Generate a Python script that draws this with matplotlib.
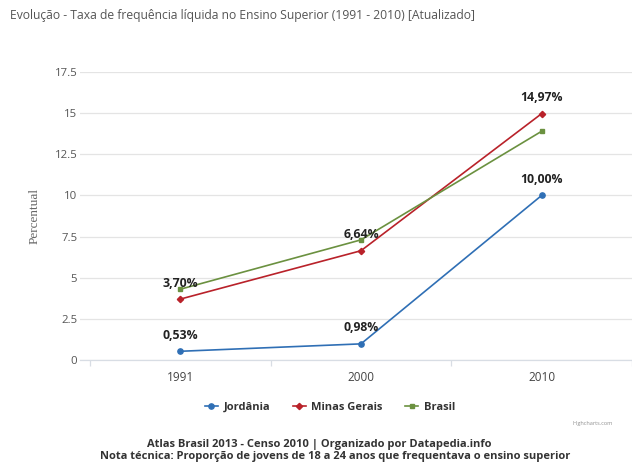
import matplotlib
matplotlib.use("Agg")
import matplotlib.pyplot as plt
from matplotlib.lines import Line2D

years = ["1991", "2000", "2010"]
jordania = [0.53, 0.98, 10.00]
minas = [3.70, 6.64, 14.97]
brasil = [4.3, 7.3, 13.9]
yticks = [0, 2.5, 5, 7.5, 10, 12.5, 15, 17.5]
ytick_labels = ["0", "2.5", "5", "7.5", "10", "12.5", "15", "17.5"]

title = "Evolução - Taxa de frequência líquida no Ensino Superior (1991 - 2010) [Atualizado]"
footer1 = "Atlas Brasil 2013 - Censo 2010 | Organizado por Datapedia.info"
footer2 = "Nota técnica: Proporção de jovens de 18 a 24 anos que frequentava o ensino superior"

plt.rcParams['font.family'] = ['Open Sans', 'DejaVu Sans']

W, H = 632, 468
fig = plt.figure(figsize=(W / 100, H / 100), dpi=100)
left, right, top, bottom = 80, 632, 72, 360
ax = fig.add_axes([left / W, 1 - bottom / H, (right - left) / W, (bottom - top) / H])

c_blue = '#2f6fb5'
c_red = '#b9222a'
c_green = '#6b9140'

x = list(range(len(years)))
series = [
    ("Jordânia", jordania, c_blue, 'o', 3.8),
    ("Minas Gerais", minas, c_red, 'D', 3.2),
    ("Brasil", brasil, c_green, 's', 3.4),
]
for name, vals, col, mk, ms in series:
    ax.plot(x, vals, color=col, lw=1.2, marker=mk, ms=ms, zorder=3, label=name)

def fmt(v):
    return f"{v:.2f}".replace(".", ",") + "%"

for vals in (jordania, minas):
    for xi, v in zip(x, vals):
        ax.annotate(fmt(v), (xi, v), xytext=(0, 11.5), textcoords='offset points',
                    ha='center', va='center', fontsize=8.8, fontweight='bold',
                    color='#222222', zorder=5)

# axes
ax.set_ylim(0, 17.5)
ax.set_xlim(-(181 - left) / 182, (right - 181) / 182)
ax.set_yticks(yticks)
ax.set_yticklabels(ytick_labels)
ax.grid(axis='y', color='#e4e4e4', lw=0.9)
ax.set_axisbelow(True)
for s in ['top', 'right', 'left']:
    ax.spines[s].set_visible(False)
ax.spines['bottom'].set_color('#d8dde4')
ax.spines['bottom'].set_linewidth(0.9)
ax.tick_params(axis='y', length=0, labelsize=8.2, labelcolor='#555555', pad=2)
ax.set_xticks(x)
ax.set_xticklabels(years)
ax.tick_params(axis='x', length=0, labelsize=8.5, labelcolor='#444444', pad=8)
ax.set_xticks([-0.5, 0.5, 1.5, 2.5], minor=True)
ax.tick_params(axis='x', which='minor', length=4, color='#d8dde4', width=0.9)
ax.set_ylabel("Percentual", family='Liberation Serif', fontsize=9.5, color='#666666', labelpad=10)

fig.text(10 / W, 1 - 16 / H, title, ha='left', va='center', fontsize=8.7, color='#555555')

handles = [Line2D([0], [0], color=col, lw=1.2, marker=mk, ms=ms) for _, _, col, mk, ms in series]
fig.legend(handles, [s[0] for s in series], loc='center', bbox_to_anchor=(330 / W, 1 - 407 / H),
           ncol=3, frameon=False, handlelength=1.2, handletextpad=0.5, columnspacing=2.0,
           prop={'family': 'Open Sans', 'weight': 'bold', 'size': 8})
for t in fig.legends[0].get_texts():
    t.set_color('#333333')

fig.text(593 / W, 1 - 423 / H, "Highcharts.com", ha='center', va='center', fontsize=4, color='#909090')
fig.text(319 / W, 1 - 444 / H, footer1, ha='center', va='center', fontsize=8, fontweight='bold', color='#333333')
fig.text(335 / W, 1 - 457 / H, footer2, ha='center', va='center', fontsize=8, fontweight='bold', color='#333333')

fig.savefig("out.png", dpi=100, facecolor='white')
